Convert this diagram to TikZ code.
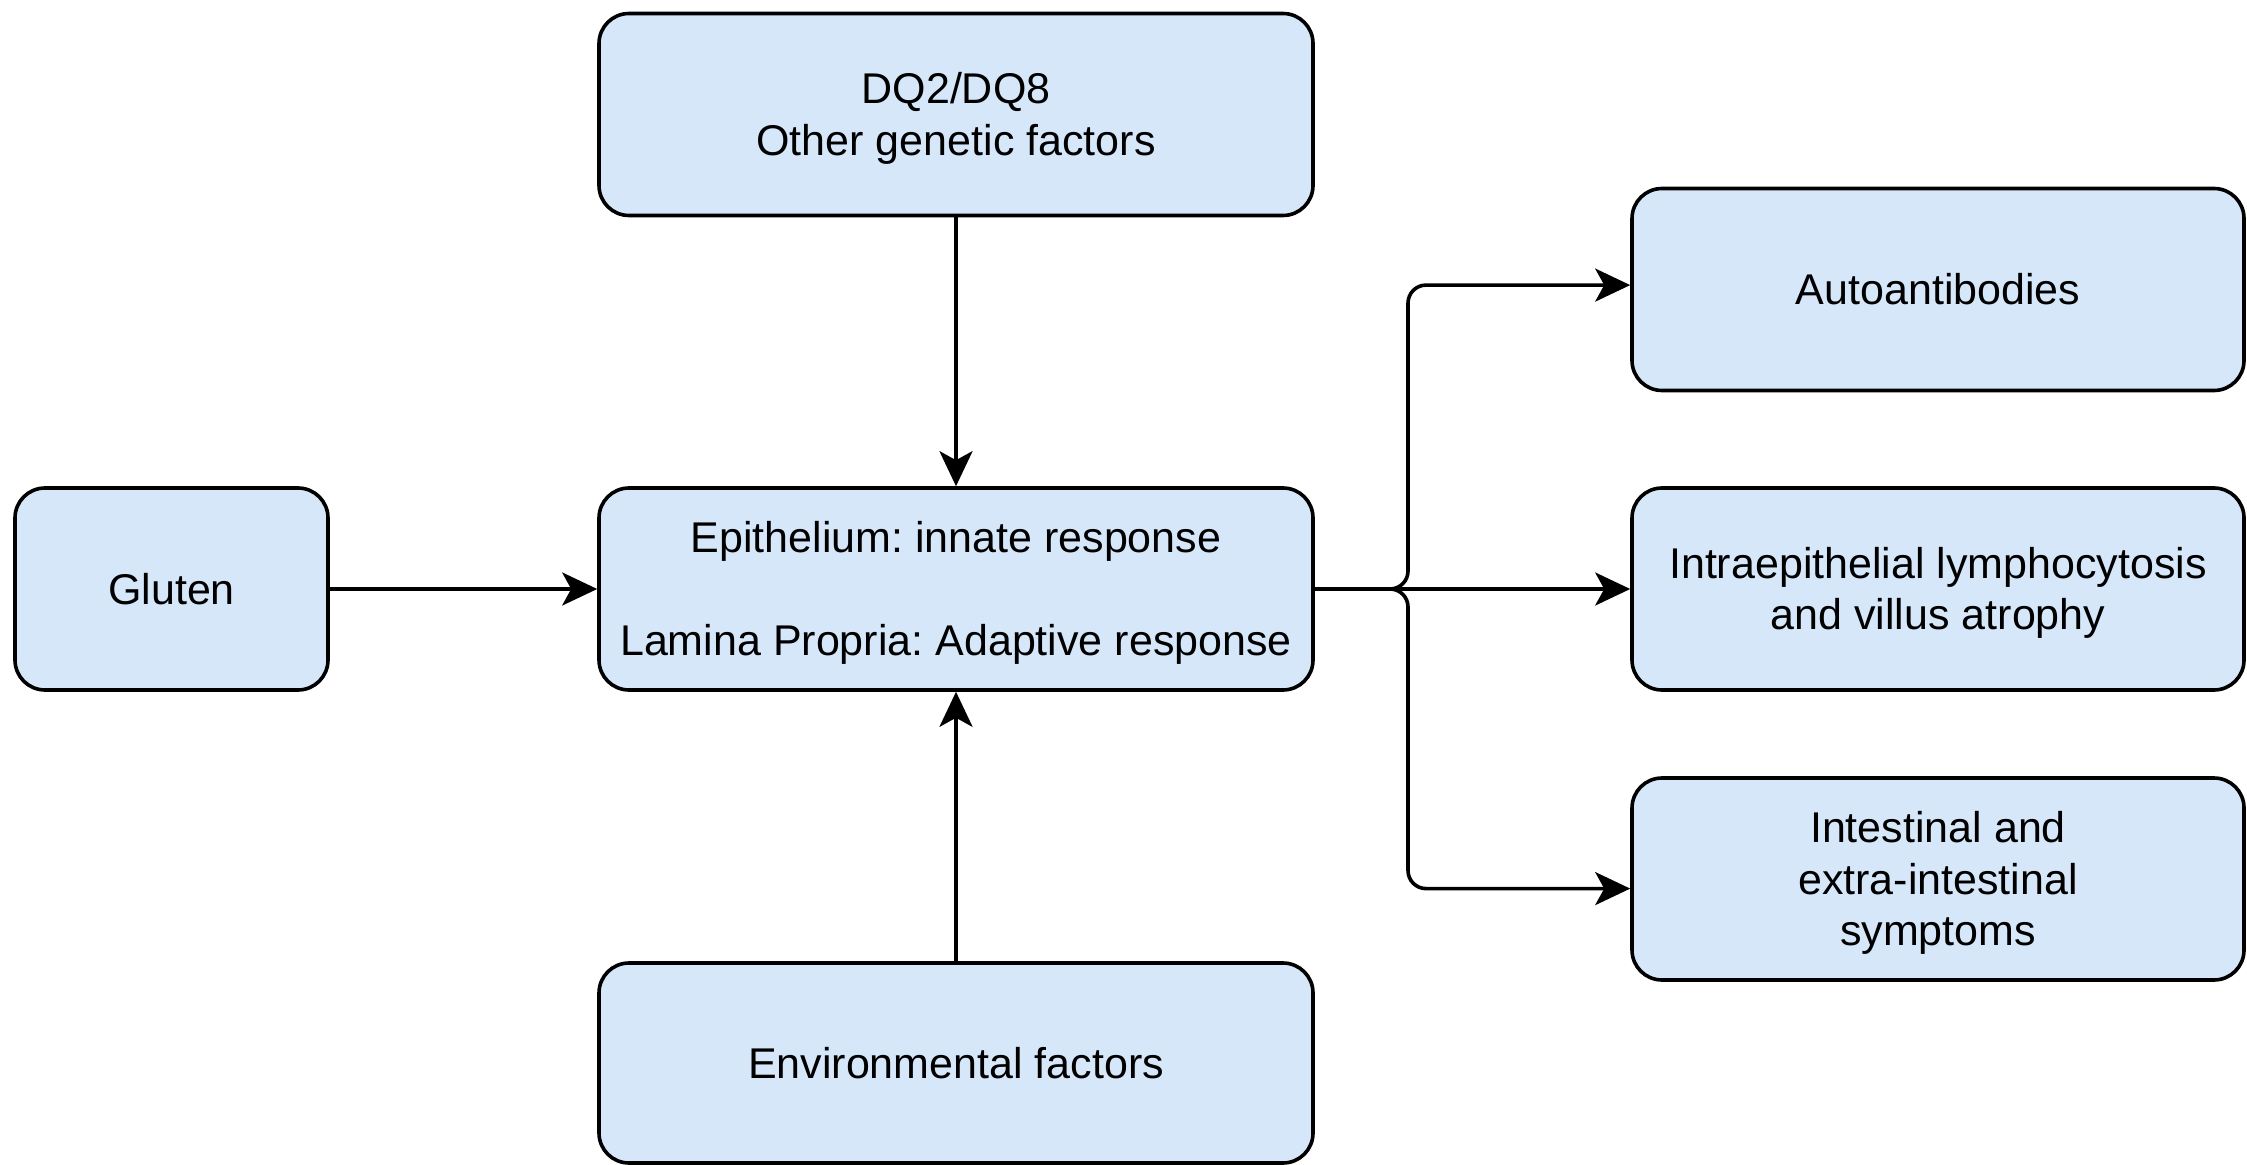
\documentclass[tikz,border=0pt]{standalone}
\usepackage{fontspec}
\setmainfont{Liberation Sans}
\usetikzlibrary{arrows.meta}
\definecolor{boxfill}{RGB}{214,231,250}
% raises the top of a first text line so that stacked lines sit a little lower
\newcommand{\firstline}{\rule{0pt}{19.6pt}}
\begin{document}
\frenchspacing
\begin{tikzpicture}[x=0.5pt,y=-0.5pt,
  box/.style={draw=black, fill=boxfill, line width=1.8pt, rounded corners=15pt,
    minimum width=357pt, minimum height=101pt, align=center, inner sep=0pt,
    font=\fontsize{21.5pt}{25.8pt}\selectfont},
  arr/.style={line width=1.8pt, -{Stealth[length=17.5pt,width=16.5pt,inset=4.5pt]}}]
\useasboundingbox (0,0) rectangle (2247,1165);

\node[box] (gen) at (956,114.5) {\firstline DQ2/DQ8\\Other genetic factors};
\node[box, minimum width=156.5pt] (gluten) at (171.5,589) {Gluten};
\node[box] (epi) at (956,589) {\firstline Epithelium: innate response\\[25.8pt]Lamina Propria: Adaptive response};
\node[box, minimum height=100pt] (env) at (956,1063) {Environmental factors};

\node[box, minimum width=306pt] (auto) at (1938,289.5) {Autoantibodies};
\node[box, minimum width=306pt] (intra) at (1938,589) {\firstline Intraepithelial lymphocytosis\\and villus atrophy};
\node[box, minimum width=306pt] (intest) at (1938,879) {\firstline Intestinal and\\extra-intestinal\\symptoms};

\draw[arr] (gen) -- (epi);
\draw[arr] (env) -- (epi);
\draw[arr] (gluten) -- (epi);

% branching connectors to the three outcomes
\coordinate (fork) at (1408,589);
\draw[arr, rounded corners=9pt] (epi.east) -- (fork) |- ([yshift=2.2pt]auto.west);
\draw[arr] (epi.east) -- (intra.west);
\draw[arr, rounded corners=9pt] (epi.east) -- (fork) |- ([yshift=-4.8pt]intest.west);
\end{tikzpicture}
\end{document}
